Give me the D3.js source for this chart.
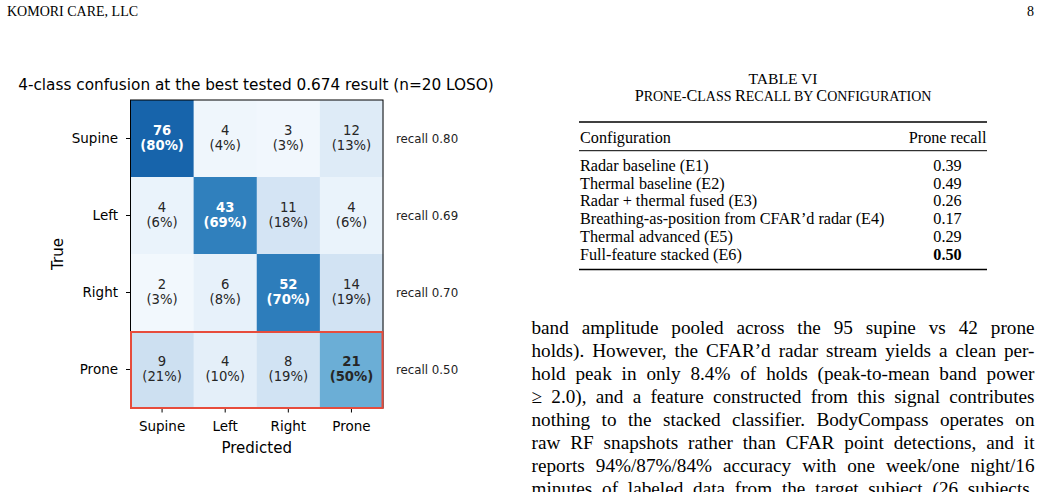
<!DOCTYPE html>
<html>
<head>
<meta charset="utf-8">
<title>confusion</title>
<style>
  body { margin: 0; background: #fff; }
  svg { display: block; }
</style>
</head>
<body>
<script src="https://cdn.jsdelivr.net/npm/d3@7"></script>
<script>
    var width = 1041, height = 492;

    // confusion matrix data
    var classes = ["Supine", "Left", "Right", "Prone"];
    var rowSupine = [76, 4, 3, 12];
    var rowLeft = [4, 43, 11, 4];
    var rowRight = [2, 6, 52, 14];
    var rowProne = [9, 4, 8, 21];
    var counts = [rowSupine, rowLeft, rowRight, rowProne];
    var highlightRow = "Prone";

    // table data
    var configs = ["Radar baseline (E1)", "Thermal baseline (E2)", "Radar + thermal fused (E3)",
        "Breathing-as-position from CFAR\u2019d radar (E4)", "Thermal advanced (E5)", "Full-feature stacked (E6)"];
    var proneRecall = ["0.39", "0.49", "0.26", "0.17", "0.29", "0.50"];
    var bestConfig = 5;

    // body text lines
    var bodyLines = [
        "band amplitude pooled across the 95 supine vs 42 prone",
        "holds). However, the CFAR\u2019d radar stream yields a clean per-",
        "hold peak in only 8.4% of holds (peak-to-mean band power",
        "\u2265 2.0), and a feature constructed from this signal contributes",
        "nothing to the stacked classifier. BodyCompass operates on",
        "raw RF snapshots rather than CFAR point detections, and it",
        "reports 94%/87%/84% accuracy with one week/one night/16",
        "minutes of labeled data from the target subject (26 subjects,"
    ];

    var svg = d3.select("body").append("svg")
        .attr("width", width)
        .attr("height", height);

    var serif = "'Liberation Serif', 'Times New Roman', serif";
    var sans = "'DejaVu Sans', sans-serif";

    // page header
    svg.append("text").attr("x", 7).attr("y", 16)
        .attr("font-family", serif).attr("font-size", 14)
        .text("KOMORI CARE, LLC");
    svg.append("text").attr("x", 1034).attr("y", 16)
        .attr("text-anchor", "end")
        .attr("font-family", serif).attr("font-size", 14)
        .text("8");

    // ---------- heatmap ----------
    var x = d3.scaleBand().domain(classes).range([130.5, 383]);
    var y = d3.scaleBand().domain(classes).range([100, 408]);

    // matplotlib "Blues"
    var bluesStops = ["#f7fbff", "#deebf7", "#c6dbef", "#9ecae1", "#6baed6", "#4292c6", "#2171b5", "#08519c", "#08306b"];
    var color = d3.scaleLinear()
        .domain(bluesStops.map(function (d, i) { return i / (bluesStops.length - 1); }))
        .range(bluesStops)
        .interpolate(d3.interpolateRgb);

    var cells = [];
    counts.forEach(function (row, i) {
        var total = d3.sum(row);
        row.forEach(function (v, j) {
            cells.push({ t: classes[i], p: classes[j], v: v, pct: v / total, diag: i === j });
        });
    });

    var chart = svg.append("g").attr("font-family", sans);

    chart.selectAll("rect.cell")
        .data(cells)
        .enter()
        .append("rect")
        .attr("class", "cell")
        .attr("x", function (d) { return x(d.p); })
        .attr("y", function (d) { return y(d.t); })
        .attr("width", x.bandwidth() + 0.5)
        .attr("height", y.bandwidth() + 0.5)
        .attr("fill", function (d) { return color(d.pct); });

    var labels = chart.selectAll("text.cell")
        .data(cells)
        .enter()
        .append("text")
        .attr("class", "cell")
        .attr("text-anchor", "middle")
        .attr("font-size", 13.2)
        .attr("font-weight", function (d) { return d.diag ? "bold" : "normal"; })
        .attr("fill", function (d) { return d.pct > 0.6 ? "#ffffff" : "#262626"; });
    labels.append("tspan")
        .attr("x", function (d) { return x(d.p) + x.bandwidth() / 2; })
        .attr("y", function (d) { return y(d.t) + y.bandwidth() / 2 - 3.5; })
        .text(function (d) { return d.v; });
    labels.append("tspan")
        .attr("x", function (d) { return x(d.p) + x.bandwidth() / 2; })
        .attr("y", function (d) { return y(d.t) + y.bandwidth() / 2 + 11.5; })
        .text(function (d) { return "(" + Math.round(d.pct * 100) + "%)"; });

    // frame
    chart.append("rect")
        .attr("x", 130.5).attr("y", 100)
        .attr("width", 252.5).attr("height", 308)
        .attr("fill", "none").attr("stroke", "#000").attr("stroke-width", 1);

    // axes
    var yAxis = chart.append("g")
        .attr("transform", "translate(130.5,0)")
        .call(d3.axisLeft(y).tickSize(4.5).tickPadding(8));
    var xAxis = chart.append("g")
        .attr("transform", "translate(0,408)")
        .call(d3.axisBottom(x).tickSize(4.5).tickPadding(8.5));
    [xAxis, yAxis].forEach(function (a) {
        a.select(".domain").remove();
        a.selectAll("text").attr("font-family", sans).attr("font-size", 13.5).attr("fill", "#000");
        a.selectAll("line").attr("stroke", "#000").attr("stroke-width", 1);
    });

    // highlighted row
    chart.append("rect")
        .attr("x", x(classes[0]) + 0.5)
        .attr("y", y(highlightRow) + 1)
        .attr("width", x.range()[1] - x.range()[0] - 1)
        .attr("height", y.bandwidth() - 1)
        .attr("fill", "none")
        .attr("stroke", "#e74c3c")
        .attr("stroke-width", 2);

    // recall annotations
    chart.selectAll("text.recall")
        .data(counts)
        .enter()
        .append("text")
        .attr("class", "recall")
        .attr("x", 396)
        .attr("y", function (d, i) { return y(classes[i]) + y.bandwidth() / 2; })
        .attr("dy", "0.35em")
        .attr("font-size", 11.8)
        .attr("fill", "#222")
        .text(function (d, i) { return "recall " + (d[i] / d3.sum(d)).toFixed(2); });

    // axis titles and chart title
    chart.append("text")
        .attr("x", 256.7).attr("y", 452.5)
        .attr("text-anchor", "middle")
        .attr("font-size", 15)
        .text("Predicted");
    chart.append("text")
        .attr("transform", "translate(63,254) rotate(-90)")
        .attr("text-anchor", "middle")
        .attr("font-size", 15)
        .text("True");
    chart.append("text")
        .attr("x", 256).attr("y", 90)
        .attr("text-anchor", "middle")
        .attr("font-size", 15.3)
        .text("4-class confusion at the best tested 0.674 result (n=20 LOSO)");

    // ---------- table ----------
    var tbl = svg.append("g").attr("font-family", serif).attr("font-size", 16.2);
    var tl = 579, tr = 987;
    tbl.append("text").attr("x", 783).attr("y", 84).attr("text-anchor", "middle")
        .attr("font-size", 15.6).text("TABLE VI");

    // small caps caption: capitals full size, the rest as smaller capitals
    var caption = "Prone-Class Recall by Configuration";
    var capText = tbl.append("text").attr("x", 783).attr("y", 101).attr("text-anchor", "middle")
        .attr("font-size", 16);
    caption.match(/[A-Z]|[^A-Z]+/g).forEach(function (part) {
        var big = /[A-Z]/.test(part);
        capText.append("tspan")
            .attr("font-size", big ? 16.2 : 14)
            .text(part.toUpperCase());
    });

    tbl.append("line").attr("x1", tl).attr("x2", tr).attr("y1", 122).attr("y2", 122)
        .attr("stroke", "#000").attr("stroke-width", 1.5);
    tbl.append("line").attr("x1", tl).attr("x2", tr).attr("y1", 150.7).attr("y2", 150.7)
        .attr("stroke", "#000").attr("stroke-width", 1);
    tbl.append("line").attr("x1", tl).attr("x2", tr).attr("y1", 269.5).attr("y2", 269.5)
        .attr("stroke", "#000").attr("stroke-width", 1.5);

    tbl.append("text").attr("x", tl + 1).attr("y", 143.3).text("Configuration");
    tbl.append("text").attr("x", tr - 0.5).attr("y", 143.3).attr("text-anchor", "end").text("Prone recall");

    var rowY = d3.scalePoint().domain(d3.range(configs.length)).range([170.8, 259.8]);
    tbl.selectAll("text.cfg")
        .data(configs)
        .enter()
        .append("text")
        .attr("class", "cfg")
        .attr("x", tl + 1)
        .attr("y", function (d, i) { return rowY(i); })
        .text(function (d) { return d; });
    tbl.selectAll("text.val")
        .data(proneRecall)
        .enter()
        .append("text")
        .attr("class", "val")
        .attr("x", 947.5)
        .attr("y", function (d, i) { return rowY(i); })
        .attr("text-anchor", "middle")
        .attr("font-weight", function (d, i) { return i === bestConfig ? "bold" : "normal"; })
        .text(function (d) { return d; });

    // ---------- justified body text ----------
    var bl = 531.5, br = 1034.5;
    var lineY = d3.scaleLinear().domain([0, 1]).range([334.3, 357.3]);
    bodyLines.forEach(function (line, i) {
        var t = svg.append("text")
            .attr("x", bl)
            .attr("y", lineY(i))
            .attr("font-family", serif)
            .attr("font-size", 19.2)
            .text(line);
        var natural = t.node().getComputedTextLength();
        var gaps = line.split(" ").length - 1;
        var extra = (br - bl - natural) / gaps;
        t.style("word-spacing", extra + "px");
    });
</script>
</body>
</html>
